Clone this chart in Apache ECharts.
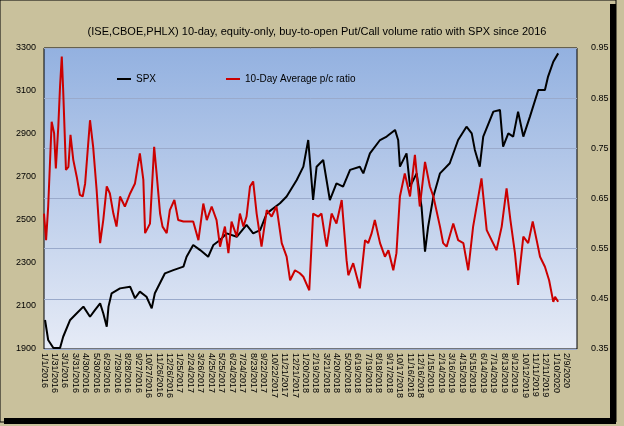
<!DOCTYPE html>
<html>
<head>
<meta charset="utf-8">
<script src="https://cdn.jsdelivr.net/npm/echarts@6/dist/echarts.min.js"></script>
<style>
  html, body { margin: 0; padding: 0; background: #ffffff; }
  #container { width: 624px; height: 426px; }
</style>
</head>
<body>
<div id="container"></div>
<script>
// day offsets from 1/1/2016
var spxDays = [3,12,27,46,55,75,94,113,132,146,161,170,180,185,194,218,247,261,275,294,309,318,347,371,400,409,428,448,471,486,505,524,553,581,600,620,639,677,696,725,744,758,772,782,801,820,839,858,878,906,916,935,964,983,1007,1016,1021,1040,1050,1069,1083,1093,1102,1117,1136,1164,1188,1212,1227,1236,1250,1260,1289,1308,1317,1332,1346,1360,1375,1394,1418,1437,1446,1461,1475];
var spxValues = [2035,1942,1905,1905,1957,2035,2066,2097,2050,2081,2112,2066,2004,2097,2159,2182,2190,2136,2167,2143,2089,2159,2252,2267,2283,2329,2384,2360,2329,2384,2407,2438,2422,2477,2438,2453,2531,2578,2609,2686,2748,2872,2593,2748,2779,2593,2670,2655,2733,2748,2717,2810,2872,2888,2919,2872,2748,2810,2655,2717,2562,2353,2469,2609,2717,2764,2872,2934,2903,2826,2748,2888,3004,3012,2841,2903,2888,3004,2888,2981,3105,3105,3167,3236,3275];
var pcDays = [0,6,12,22,29,34,41,46,51,55,63,70,76,84,94,103,111,118,132,141,151,161,170,180,189,199,208,218,232,247,261,275,285,290,304,316,323,333,340,352,361,374,385,400,428,443,457,467,481,495,505,519,529,538,553,562,572,581,591,600,610,624,639,653,667,682,696,706,720,734,744,761,772,787,796,806,811,825,839,854,868,873,887,906,921,930,940,949,964,978,988,1002,1011,1021,1035,1050,1064,1078,1093,1107,1117,1136,1145,1155,1174,1188,1203,1217,1231,1255,1270,1284,1298,1313,1327,1338,1351,1360,1375,1389,1402,1415,1423,1437,1449,1461,1466,1475];
var pcValues = [0.620,0.567,0.634,0.803,0.780,0.710,0.793,0.873,0.933,0.866,0.707,0.713,0.777,0.727,0.693,0.657,0.654,0.680,0.806,0.753,0.667,0.561,0.607,0.674,0.660,0.620,0.594,0.654,0.634,0.660,0.680,0.740,0.687,0.581,0.600,0.753,0.700,0.620,0.594,0.581,0.627,0.647,0.607,0.604,0.604,0.567,0.640,0.607,0.634,0.607,0.554,0.594,0.541,0.604,0.574,0.620,0.594,0.614,0.674,0.684,0.620,0.554,0.627,0.614,0.634,0.561,0.534,0.487,0.507,0.501,0.494,0.467,0.620,0.614,0.620,0.574,0.554,0.620,0.600,0.647,0.527,0.497,0.521,0.471,0.567,0.561,0.581,0.607,0.561,0.534,0.547,0.507,0.541,0.654,0.700,0.654,0.737,0.634,0.723,0.674,0.654,0.594,0.561,0.554,0.600,0.567,0.561,0.507,0.594,0.690,0.587,0.567,0.547,0.594,0.670,0.607,0.541,0.478,0.574,0.561,0.604,0.561,0.534,0.514,0.487,0.444,0.454,0.444];

function pairs(xs, ys) {
    var out = [];
    for (var i = 0; i < xs.length; i++) out.push([xs[i], ys[i]]);
    return out;
}

function dayLabel(v) {
    var d = new Date(Date.UTC(2016, 0, 1) + v * 86400000);
    return (d.getUTCMonth() + 1) + '/' + d.getUTCDate() + '/' + d.getUTCFullYear();
}

var myChart = echarts.init(document.getElementById('container'));
var font = 'Liberation Sans';

var option = {
    backgroundColor: '#c9c19c',
    animation: false,
    textStyle: {fontFamily: font},
    title: {
        text: '(ISE,CBOE,PHLX) 10-day, equity-only, buy-to-open Put/Call volume ratio with SPX since 2016',
        left: 312,
        textAlign: 'center',
        top: 21,
        textStyle: {fontSize: 11, fontWeight: 'normal', color: '#000', fontFamily: font}
    },
    graphic: [{
        type: 'rect',
        z: -10,
        shape: {x: 0, y: 0, width: 616, height: 422},
        style: {fill: 'none', stroke: '#000', lineWidth: 1}
    }, {
        type: 'rect', z: -10,
        shape: {x: 610, y: 4, width: 6, height: 418},
        style: {fill: '#000'}
    }, {
        type: 'rect', z: -10,
        shape: {x: 4, y: 418, width: 612, height: 6},
        style: {fill: '#000'}
    }],
    legend: {
        left: 112,
        top: 69,
        itemGap: 70,
        itemWidth: 14,
        itemHeight: 2,
        icon: 'rect',
        textStyle: {fontSize: 10, color: '#000'},
        data: ['SPX', '10-Day Average p/c ratio']
    },
    grid: {
        left: 44, right: 47, top: 48, bottom: 77,
        show: true,
        borderColor: '#000',
        borderWidth: 1,
        backgroundColor: new echarts.graphic.LinearGradient(0, 0, 0, 1, [
            {offset: 0, color: '#93b1e0'},
            {offset: 1, color: '#e6ebf6'}
        ])
    },
    xAxis: {
        type: 'value',
        min: 0,
        max: 1529,
        interval: 30,
        axisLine: {show: false},
        axisTick: {show: false},
        splitLine: {show: false},
        axisLabel: {
            rotate: -90,
            fontSize: 9,
            color: '#000',
            margin: 4,
            showMaxLabel: false,
            formatter: dayLabel
        }
    },
    yAxis: [{
        type: 'value',
        min: 1900,
        max: 3300,
        interval: 200,
        axisLine: {show: false},
        axisTick: {show: false},
        splitLine: {show: false},
        axisLabel: {fontSize: 9, color: '#000', margin: 8, formatter: function (v) { return String(v); }}
    }, {
        type: 'value',
        min: 0.35,
        max: 0.95,
        interval: 0.1,
        axisLine: {show: false},
        axisTick: {show: false},
        splitLine: {show: true, lineStyle: {color: '#9aaacb', width: 1}},
        axisLabel: {fontSize: 9, color: '#000', margin: 14, formatter: function (v) { return v.toFixed(2); }}
    }],
    series: [{
        name: 'SPX',
        type: 'line',
        yAxisIndex: 0,
        symbol: 'none',
        color: '#000000',
        lineStyle: {width: 2},
        data: pairs(spxDays, spxValues)
    }, {
        name: '10-Day Average p/c ratio',
        type: 'line',
        yAxisIndex: 1,
        symbol: 'none',
        color: '#cc0000',
        lineStyle: {width: 2},
        data: pairs(pcDays, pcValues)
    }]
};

myChart.setOption(option);
</script>
</body>
</html>
